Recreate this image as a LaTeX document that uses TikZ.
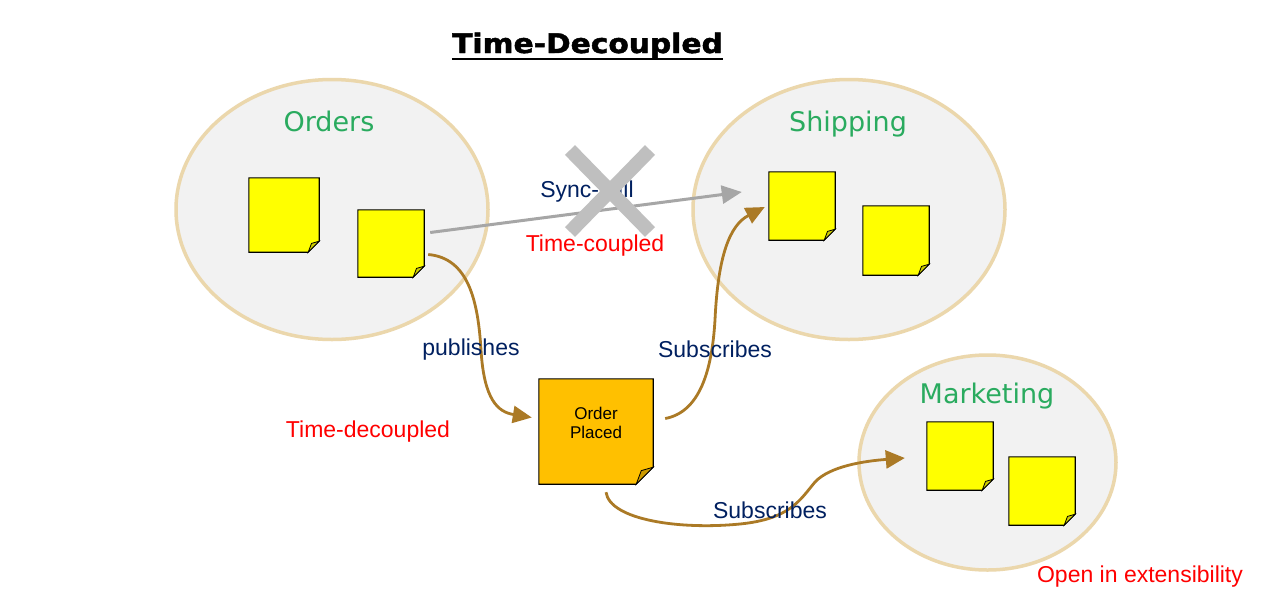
\documentclass[tikz,border=0pt]{standalone}
\usepackage{fontspec}
\setmainfont{Liberation Sans}
\newfontfamily\ctxfont{DejaVu Sans}
\newfontfamily\headfont{DejaVu Sans Bold}[FakeBold=1.6]
\usetikzlibrary{arrows.meta,shapes.geometric}
\definecolor{ctxfill}{HTML}{F2F2F2}
\definecolor{ctxedge}{HTML}{EBD7AC}
\definecolor{ctxgreen}{HTML}{2AAB5F}
\definecolor{linkblue}{HTML}{002060}
\definecolor{eventbrown}{HTML}{AB7A26}
\definecolor{callgray}{HTML}{A6A6A6}
\definecolor{crossgray}{HTML}{BFBFBF}
\definecolor{noteyellow}{HTML}{FFFF00}
\definecolor{notefold}{HTML}{CCCC00}
\definecolor{eventorange}{HTML}{FFC000}
\definecolor{eventfold}{HTML}{CC9A00}

\begin{document}
\begin{tikzpicture}[x=1pt, y=-1pt,
    ctx/.style={ellipse, draw=ctxedge, line width=3.5pt, fill=ctxfill, inner sep=0pt},
    ctxname/.style={anchor=base, font=\ctxfont\fontsize{27}{32}\selectfont, text=ctxgreen},
    note/.style={inner sep=0pt, minimum width=66pt, minimum height=68pt},
    msg/.style={anchor=base, font=\fontsize{23}{27}\selectfont, text=linkblue},
    remark/.style={anchor=base, font=\fontsize{23}{27}\selectfont, text=red},
    flow/.style={draw=eventbrown, line width=2.8pt, -{Triangle[length=19pt,width=17pt]}}]
  \fill[white] (0,0) rectangle (1262,603);
  \useasboundingbox (0,0) rectangle (1262,603);

  \node[anchor=base, font=\headfont\fontsize{27}{30}\selectfont, inner sep=0pt] (title) at (587.5,53) {\scalebox{1.1}[1]{Time-Decoupled}};
  \draw[line width=2.8pt] ([yshift=-6]title.base west) -- ([yshift=-6]title.base east);

  % bounded contexts
  \node[ctx, minimum width=312pt, minimum height=260pt] (orders) at (332,209.5) {};
  \node[ctx, minimum width=312pt, minimum height=260pt] (shipping) at (849,209.5) {};
  \node[ctx, minimum width=257pt, minimum height=215pt] (marketing) at (987.5,462.5) {};
  \node[ctxname] (ordersname) at (329,131) {Orders};
  \node[ctxname] (shippingname) at (848,131) {Shipping};
  \node[ctxname] (marketingname) at (987,403) {Marketing};

  % sticky notes
  \node[note, minimum width=70pt, minimum height=74pt] (o1) at (284,215) {};
  \node[note, minimum height=67pt] (o2) at (391,243.5) {};
  \node[note] (s1) at (802,206) {};
  \node[note, minimum height=69pt] (s2) at (896,240.5) {};
  \node[note] (m1) at (960,456) {};
  \node[note] (m2) at (1042,491) {};
  \node[note, minimum width=114pt, minimum height=105pt] (op) at (596,431.5) {};
  \foreach \n/\f/\c/\d in {o1/11/noteyellow/notefold, o2/11/noteyellow/notefold,
      s1/11/noteyellow/notefold, s2/11/noteyellow/notefold, m1/11/noteyellow/notefold,
      m2/11/noteyellow/notefold, op/17/eventorange/eventfold} {
    \draw[line width=1.1pt, fill=\c] (\n.north west) -- (\n.north east) -- ([yshift=\f]\n.south east)
      -- ([xshift=-\f]\n.south east) -- (\n.south west) -- cycle;
    \draw[line width=0.8pt, fill=\d] ([xshift=-\f]\n.south east) -- ([yshift=\f]\n.south east)
      -- ([xshift=-0.7*\f, yshift=0.8*\f]\n.south east) -- cycle;
  }
  \node[font=\fontsize{17}{19}\selectfont, align=center] (optext) at ([yshift=9]op.center) {Order\\Placed};

  % time-coupled call
  \draw[draw=callgray, line width=3pt, -{Triangle[length=20pt,width=18pt]}] ([xshift=6,yshift=11]o2.east) -- ([xshift=-27,yshift=14]s1.west);
  \node[msg] (synccall) at (587,197) {Sync-call};
  \coordinate (nocall) at (610,191);
  \draw[crossgray, line width=14pt] ([shift={(-40,-41)}]nocall) -- ([shift={(40,41)}]nocall)
    ([shift={(40,-41)}]nocall) -- ([shift={(-40,41)}]nocall);
  \node[remark] (coupled) at (595,251) {Time-coupled};

  % events
  \draw[flow] ([xshift=4,yshift=-11]o2.east) .. controls (468,258) and (478,300) .. (481,350)
    .. controls (484,400) and (498,412) .. ([xshift=-7,yshift=14]op.west);
  \draw[flow] ([xshift=12,yshift=13]op.east) .. controls (700,412) and (712,370) .. (715,320)
    .. controls (718,255) and (730,225) .. ([xshift=-4,yshift=-1]s1.west);
  \draw[flow, -{Triangle[length=19pt,width=18pt]}] ([xshift=10,yshift=-8]op.south) .. controls (610,520) and (680,530) .. (740,524)
    .. controls (790,519) and (800,500) .. (815,482) .. controls (830,466) and (865,461) .. ([xshift=-22,yshift=-2]m1.west);
  \node[msg] (pub) at (471,355.5) {publishes};
  \node[msg] (sub1) at (715,357.5) {Subscribes};
  \node[msg] (sub2) at (770,518.5) {Subscribes};
  \node[remark] (decoupled) at (368,437) {Time-decoupled};
  \node[remark] (openext) at (1140,582) {Open in extensibility};
\end{tikzpicture}
\end{document}
